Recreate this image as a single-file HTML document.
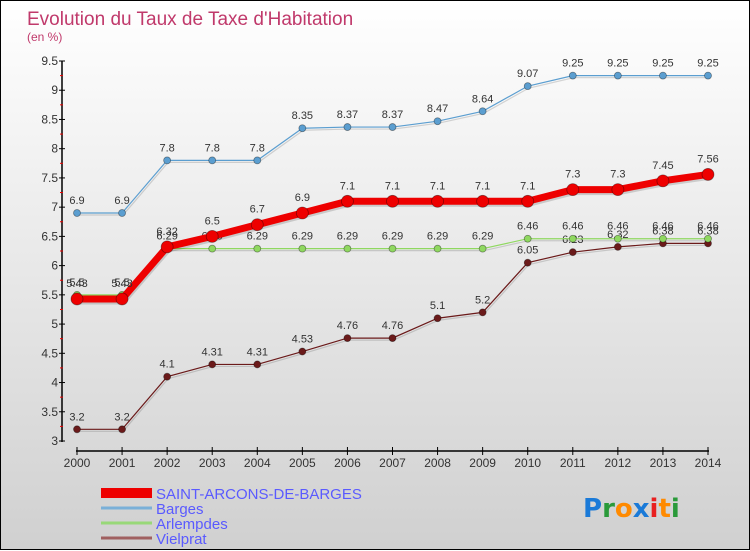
<!DOCTYPE html>
<html><head><meta charset="utf-8">
<style>
html,body{margin:0;padding:0;}
body{width:750px;height:550px;overflow:hidden;}
#wrap{position:relative;width:748px;height:548px;border:1px solid #000;background:linear-gradient(#ffffff,#d0d0d0);font-family:"Liberation Sans",sans-serif;}
svg{position:absolute;left:0;top:0;}
</style></head>
<body>
<div id="wrap">
<svg id="chart" width="750" height="550"></svg>
</div>
<script>
const years=[2000,2001,2002,2003,2004,2005,2006,2007,2008,2009,2010,2011,2012,2013,2014];
const saint=[5.43,5.43,6.32,6.5,6.7,6.9,7.1,7.1,7.1,7.1,7.1,7.3,7.3,7.45,7.56];
const barges=[6.9,6.9,7.8,7.8,7.8,8.35,8.37,8.37,8.47,8.64,9.07,9.25,9.25,9.25,9.25];
const arlempdes=[5.5,5.5,6.29,6.29,6.29,6.29,6.29,6.29,6.29,6.29,6.46,6.46,6.46,6.46,6.46];
const vielprat=[3.2,3.2,4.1,4.31,4.31,4.53,4.76,4.76,5.1,5.2,6.05,6.23,6.32,6.38,6.38];
const yTicks=[3,3.5,4,4.5,5,5.5,6,6.5,7,7.5,8,8.5,9,9.5];
const seriesNames=["SAINT-ARCONS-DE-BARGES","Barges","Arlempdes","Vielprat"];

const NS="http://www.w3.org/2000/svg";
const svg=document.getElementById('chart');
function x(i){return 76+i*(707-76)/(years.length-1);}
function y(v){return 440-(v-3)*(380/6.5);}
function el(t,a,txt){const e=document.createElementNS(NS,t);for(const k in a)e.setAttribute(k,a[k]);if(txt!==undefined)e.textContent=txt;svg.appendChild(e);return e;}

let e;
e=el('text',{x:26,y:24,fill:'#c0396b','font-size':19},'Evolution du Taux de Taxe d\'Habitation');


e=el('text',{x:26,y:40,fill:'#c0396b','font-size':12},'(en %)');



e=el('line',{x1:61,y1:60,x2:61,y2:441,stroke:'#000','stroke-width':1.5});


yTicks.forEach(v=>{
  el('line',{x1:58,y1:y(v),x2:64,y2:y(v),stroke:'#000'});
  e=el('text',{x:57,y:y(v)+4,'text-anchor':'end','font-size':12,fill:'#333'},String(v));
  
  
  if(v<9.5) el('line',{x1:59,y1:y(v+0.25),x2:62,y2:y(v+0.25),stroke:'#e00'});
});
e=el('line',{x1:75,y1:450,x2:708,y2:450,stroke:'#000','stroke-width':1.5});


years.forEach((yr,i)=>{
  el('line',{x1:x(i),y1:446,x2:x(i),y2:454,stroke:'#000'});
  e=el('text',{x:x(i),y:466,'text-anchor':'middle','font-size':12,fill:'#333'},String(yr));
  
  
});

function drawSeries(data,color,w,r,name,labelDy){
  const g=document.createElementNS(NS,'g');svg.appendChild(g);
  
  
  const pts=data.map((v,i)=>x(i)+','+y(v)).join(' ');
  const sh=document.createElementNS(NS,'polyline');
  sh.setAttribute('points',data.map((v,i)=>(x(i)+1)+','+(y(v)+2)).join(' '));
  sh.setAttribute('fill','none');sh.setAttribute('stroke','rgba(0,0,0,0.15)');sh.setAttribute('stroke-width',w);
  g.appendChild(sh);
  const pl=document.createElementNS(NS,'polyline');
  pl.setAttribute('points',pts);pl.setAttribute('fill','none');pl.setAttribute('stroke',color);pl.setAttribute('stroke-width',w);
  g.appendChild(pl);
  data.forEach((v,i)=>{
    const c=document.createElementNS(NS,'circle');
    c.setAttribute('cx',x(i));c.setAttribute('cy',y(v));c.setAttribute('r',r);
    c.setAttribute('fill',color);c.setAttribute('stroke','rgba(0,0,0,0.4)');c.setAttribute('stroke-width',0.8);
    
    
    g.appendChild(c);
    const t=document.createElementNS(NS,'text');
    t.setAttribute('x',x(i));t.setAttribute('y',y(v)+labelDy);t.setAttribute('text-anchor','middle');
    t.setAttribute('font-size',11);t.setAttribute('fill','#333');t.textContent=String(v);
    
    
    g.appendChild(t);
  });
}
drawSeries(vielprat,'#6b1a1a',1.2,3.5,'vielprat-series',-9);
drawSeries(arlempdes,'#8fd860',1.2,3.5,'arlempdes-series',-9);
drawSeries(barges,'#5b9ed0',1.2,3.5,'barges-series',-9);
drawSeries(saint,'#ee0000',7,6,'saint-arcons-series',-12);

const legColors=['#ee0000','#7ab0d8','#98d878','#a06060'];
const legW=[10,3,3,3];
seriesNames.forEach((n,i)=>{
  const yy=492+i*15;
  e=el('line',{x1:100,y1:yy,x2:151,y2:yy,stroke:legColors[i],'stroke-width':legW[i]});
  
  
  e=el('text',{x:155,y:yy+6,'font-size':15,fill:'#5a5aff'},n);
  
  
});

const logo=[['P','#1a7ad8'],['r','#2a9a3a'],['o','#ff8a00'],['x','#1a7ad8'],['i','#e82020'],['t','#ff8a00'],['i','#2a9a3a']];
const lg=el('text',{x:582,y:516,'font-size':26,'font-weight':'bold','font-family':'"DejaVu Sans",sans-serif'});


logo.forEach(([c,col])=>{const s=document.createElementNS(NS,'tspan');s.setAttribute('fill',col);s.textContent=c;lg.appendChild(s);});
</script>
</body></html>
